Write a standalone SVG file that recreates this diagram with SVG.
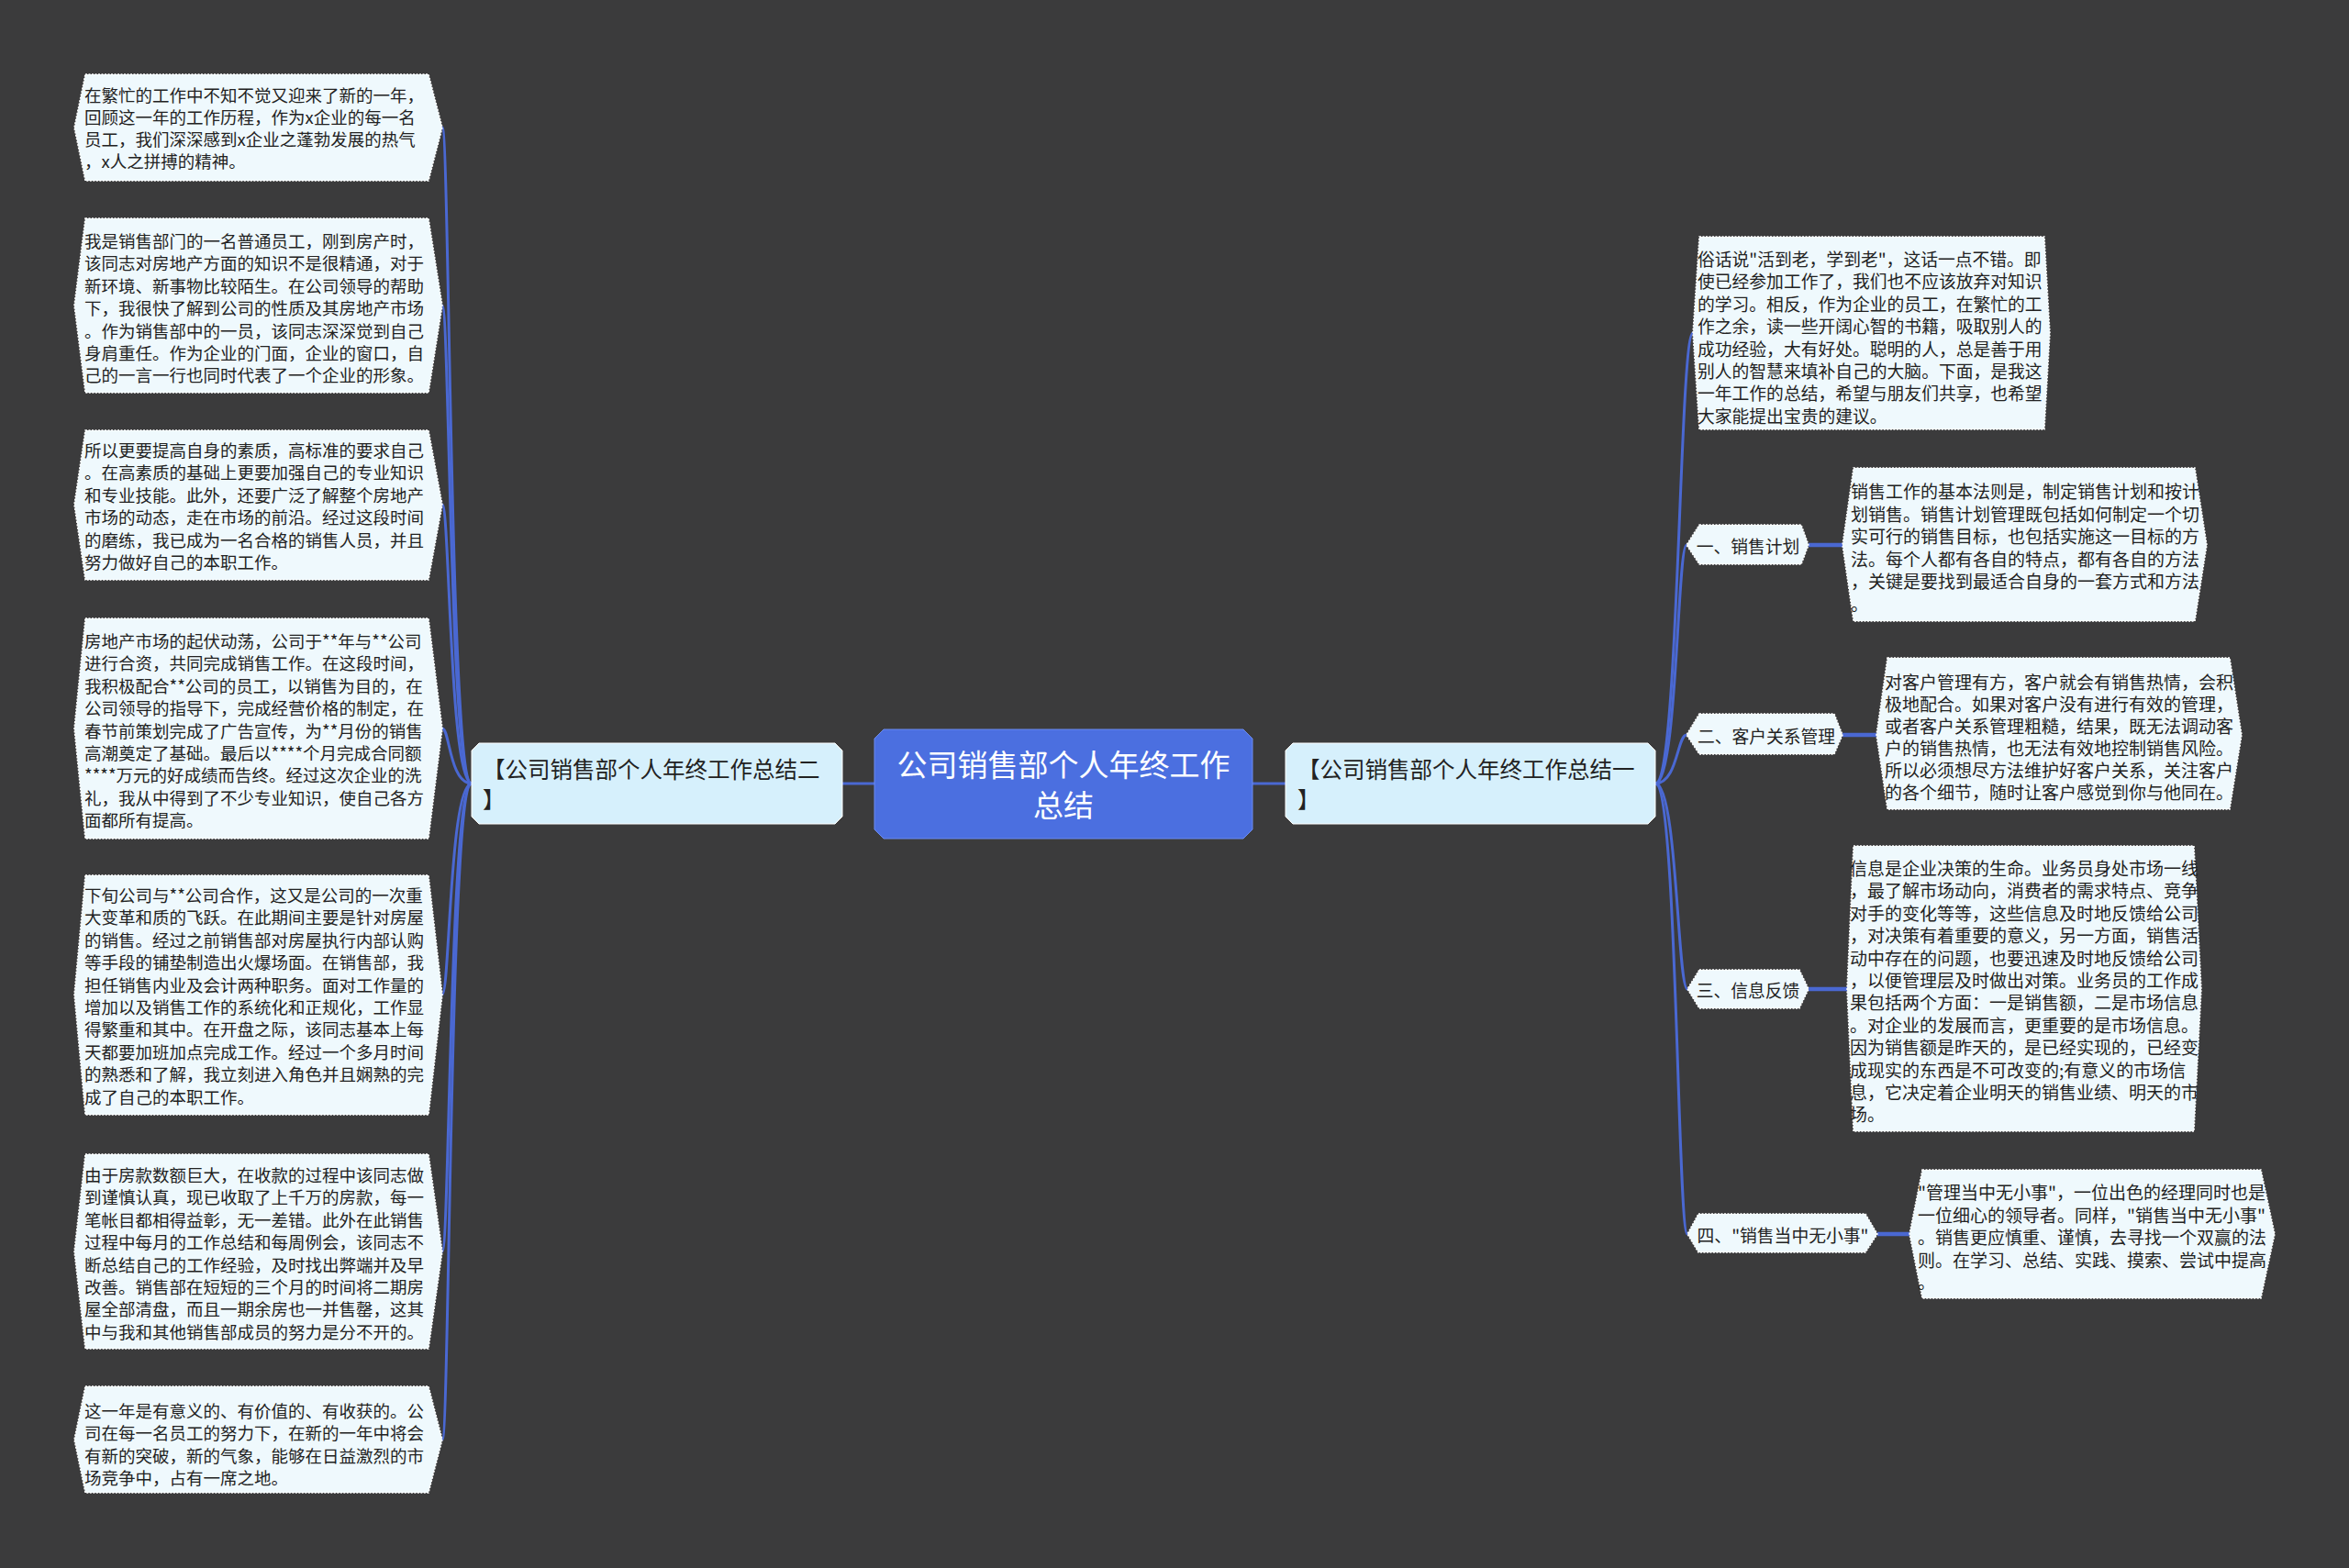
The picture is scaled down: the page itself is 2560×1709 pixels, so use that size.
<svg xmlns="http://www.w3.org/2000/svg" width="2560" height="1709" viewBox="0 0 2560 1709">
<style>
.leaf{fill:#eff9fd;stroke:#ffffff;stroke-width:1.5;stroke-dasharray:2 1.5}
.mid{fill:#eff9fd;stroke:#ffffff;stroke-width:1.5;stroke-dasharray:2 1.5}
.br{fill:#d6f0fc;stroke:#ffffff;stroke-width:1}
.t{font-family:"Noto Sans CJK SC","Noto Sans",sans-serif;fill:#222;dominant-baseline:central}
.lt{font-size:18.5px}
.rt{font-size:19px}
.mt{font-size:18.8px;text-anchor:middle}
.bt{font-size:24.5px}
.ct{font-size:33px;fill:#ffffff;text-anchor:middle}
.ln{fill:none;stroke:#4a68d2;stroke-width:3}
.lk{fill:none;stroke:#4a68d2;stroke-width:4.5}
</style>
<rect width="2560" height="1709" fill="#3b3b3c"/>
<g id="connectors">
<path class="ln" d="M918,854 H953"/>
<path class="ln" d="M1365,854 H1401"/>
<path class="ln" d="M514,854 C490,854 490,139 482,139"/>
<path class="ln" d="M514,854 C490,854 490,333 482,333"/>
<path class="ln" d="M514,854 C490,854 490,550 482,550"/>
<path class="ln" d="M514,854 C490,854 490,794 482,794"/>
<path class="ln" d="M514,854 C490,854 490,1084 482,1084"/>
<path class="ln" d="M514,854 C490,854 490,1364 482,1364"/>
<path class="ln" d="M514,854 C490,854 490,1569 482,1569"/>
<path class="ln" d="M1804,854 C1830,854 1830,363 1845,363"/>
<path class="ln" d="M1804,854 C1828,854 1828,594 1838,594"/>
<path class="ln" d="M1804,854 C1828,854 1828,801 1838,801"/>
<path class="ln" d="M1804,854 C1828,854 1828,1078 1839,1078"/>
<path class="ln" d="M1804,854 C1828,854 1828,1345 1839,1345"/>
<path class="lk" d="M1971,594 H2008"/>
<path class="lk" d="M2008,801 H2045"/>
<path class="lk" d="M1971,1078 H2013"/>
<path class="lk" d="M2046,1345 H2081"/>
</g>
<g id="center">
<path d="M963,795 H1355 L1365,805 V904 L1355,914 H963 L953,904 V805 Z" fill="#4b6fe0" stroke="#6d8cf0" stroke-width="1"/>
<text class="t ct"><tspan x="1159" y="832">公司销售部个人年终工作</tspan><tspan x="1159" y="876">总结</tspan></text>
</g>
<g id="branch-left">
<path d="M522,810 H910 L918,818 V890 L910,898 H522 L514,890 V818 Z" class="br"/>
<text class="t bt"><tspan x="526" y="837">【公司销售部个人年终工作总结二</tspan><tspan x="526" y="870">】</tspan></text>
</g>
<g id="branch-right">
<path d="M1409,810 H1796 L1804,818 V890 L1796,898 H1409 L1401,890 V818 Z" class="br"/>
<text class="t bt"><tspan x="1414" y="837">【公司销售部个人年终工作总结一</tspan><tspan x="1414" y="870">】</tspan></text>
</g>
<g id="left-1">
<polygon class="leaf" points="93,81 467,81 482,139 467,197 93,197 81,139"/>
<text class="t lt"><tspan x="92" y="103">在繁忙的工作中不知不觉又迎来了新的一年，</tspan><tspan x="92" y="127">回顾这一年的工作历程，作为x企业的每一名</tspan><tspan x="92" y="151">员工，我们深深感到x企业之蓬勃发展的热气</tspan><tspan x="92" y="175">，x人之拼搏的精神。</tspan></text>
</g>
<g id="left-2">
<polygon class="leaf" points="93,238 467,238 482,333 467,428 93,428 81,333"/>
<text class="t lt"><tspan x="92" y="262">我是销售部门的一名普通员工，刚到房产时，</tspan><tspan x="92" y="286.4">该同志对房地产方面的知识不是很精通，对于</tspan><tspan x="92" y="310.8">新环境、新事物比较陌生。在公司领导的帮助</tspan><tspan x="92" y="335.2">下，我很快了解到公司的性质及其房地产市场</tspan><tspan x="92" y="359.6">。作为销售部中的一员，该同志深深觉到自己</tspan><tspan x="92" y="384">身肩重任。作为企业的门面，企业的窗口，自</tspan><tspan x="92" y="408.4">己的一言一行也同时代表了一个企业的形象。</tspan></text>
</g>
<g id="left-3">
<polygon class="leaf" points="93,469 467,469 482,550 467,632 93,632 81,550"/>
<text class="t lt"><tspan x="92" y="490">所以更要提高自身的素质，高标准的要求自己</tspan><tspan x="92" y="514.4">。在高素质的基础上更要加强自己的专业知识</tspan><tspan x="92" y="538.8">和专业技能。此外，还要广泛了解整个房地产</tspan><tspan x="92" y="563.2">市场的动态，走在市场的前沿。经过这段时间</tspan><tspan x="92" y="587.6">的磨练，我已成为一名合格的销售人员，并且</tspan><tspan x="92" y="612">努力做好自己的本职工作。</tspan></text>
</g>
<g id="left-4">
<polygon class="leaf" points="93,674 467,674 482,794 467,914 93,914 81,794"/>
<text class="t lt"><tspan x="92" y="698">房地产市场的起伏动荡，公司于**年与**公司</tspan><tspan x="92" y="722.4">进行合资，共同完成销售工作。在这段时间，</tspan><tspan x="92" y="746.8">我积极配合**公司的员工，以销售为目的，在</tspan><tspan x="92" y="771.2">公司领导的指导下，完成经营价格的制定，在</tspan><tspan x="92" y="795.6">春节前策划完成了广告宣传，为**月份的销售</tspan><tspan x="92" y="820">高潮奠定了基础。最后以****个月完成合同额</tspan><tspan x="92" y="844.4">****万元的好成绩而告终。经过这次企业的洗</tspan><tspan x="92" y="868.8">礼，我从中得到了不少专业知识，使自己各方</tspan><tspan x="92" y="893.2">面都所有提高。</tspan></text>
</g>
<g id="left-5">
<polygon class="leaf" points="93,954 467,954 482,1084 467,1215 93,1215 81,1084"/>
<text class="t lt"><tspan x="92" y="975">下旬公司与**公司合作，这又是公司的一次重</tspan><tspan x="92" y="999.4">大变革和质的飞跃。在此期间主要是针对房屋</tspan><tspan x="92" y="1023.8">的销售。经过之前销售部对房屋执行内部认购</tspan><tspan x="92" y="1048.2">等手段的铺垫制造出火爆场面。在销售部，我</tspan><tspan x="92" y="1072.6">担任销售内业及会计两种职务。面对工作量的</tspan><tspan x="92" y="1097">增加以及销售工作的系统化和正规化，工作显</tspan><tspan x="92" y="1121.4">得繁重和其中。在开盘之际，该同志基本上每</tspan><tspan x="92" y="1145.8">天都要加班加点完成工作。经过一个多月时间</tspan><tspan x="92" y="1170.2">的熟悉和了解，我立刻进入角色并且娴熟的完</tspan><tspan x="92" y="1194.6">成了自己的本职工作。</tspan></text>
</g>
<g id="left-6">
<polygon class="leaf" points="93,1258 467,1258 482,1364 467,1470 93,1470 81,1364"/>
<text class="t lt"><tspan x="92" y="1280">由于房款数额巨大，在收款的过程中该同志做</tspan><tspan x="92" y="1304.4">到谨慎认真，现已收取了上千万的房款，每一</tspan><tspan x="92" y="1328.8">笔帐目都相得益彰，无一差错。此外在此销售</tspan><tspan x="92" y="1353.2">过程中每月的工作总结和每周例会，该同志不</tspan><tspan x="92" y="1377.6">断总结自己的工作经验，及时找出弊端并及早</tspan><tspan x="92" y="1402">改善。销售部在短短的三个月的时间将二期房</tspan><tspan x="92" y="1426.4">屋全部清盘，而且一期余房也一并售罄，这其</tspan><tspan x="92" y="1450.8">中与我和其他销售部成员的努力是分不开的。</tspan></text>
</g>
<g id="left-7">
<polygon class="leaf" points="93,1511 467,1511 482,1569 467,1627 93,1627 81,1569"/>
<text class="t lt"><tspan x="92" y="1537">这一年是有意义的、有价值的、有收获的。公</tspan><tspan x="92" y="1561.4">司在每一名员工的努力下，在新的一年中将会</tspan><tspan x="92" y="1585.8">有新的突破，新的气象，能够在日益激烈的市</tspan><tspan x="92" y="1610.2">场竞争中，占有一席之地。</tspan></text>
</g>
<g id="right-intro">
<polygon class="leaf" points="1852,258 2228,258 2234,363 2228,468 1852,468 1845,363"/>
<text class="t" style="font-size:18.8px"><tspan x="1850" y="281">俗话说"活到老，学到老"，这话一点不错。即</tspan><tspan x="1850" y="305.4">使已经参加工作了，我们也不应该放弃对知识</tspan><tspan x="1850" y="329.8">的学习。相反，作为企业的员工，在繁忙的工</tspan><tspan x="1850" y="354.2">作之余，读一些开阔心智的书籍，吸取别人的</tspan><tspan x="1850" y="378.6">成功经验，大有好处。聪明的人，总是善于用</tspan><tspan x="1850" y="403">别人的智慧来填补自己的大脑。下面，是我这</tspan><tspan x="1850" y="427.4">一年工作的总结，希望与朋友们共享，也希望</tspan><tspan x="1850" y="451.8">大家能提出宝贵的建议。</tspan></text>
</g>
<g id="sub-1">
<polygon class="mid" points="1852,572 1963,572 1971,594 1963,615 1852,615 1838,594"/>
<text class="t mt" x="1905" y="594">一、销售计划</text>
</g>
<g id="sub-1-leaf">
<polygon class="leaf" points="2020,510 2392,510 2405,594 2392,677 2020,677 2008,594"/>
<text class="t rt"><tspan x="2017" y="534">销售工作的基本法则是，制定销售计划和按计</tspan><tspan x="2017" y="558.5">划销售。销售计划管理既包括如何制定一个切</tspan><tspan x="2017" y="583">实可行的销售目标，也包括实施这一目标的方</tspan><tspan x="2017" y="607.5">法。每个人都有各自的特点，都有各自的方法</tspan><tspan x="2017" y="632">，关键是要找到最适合自身的一套方式和方法</tspan><tspan x="2017" y="656.5">。</tspan></text>
</g>
<g id="sub-2">
<polygon class="mid" points="1852,778 1999,778 2008,801 1999,822 1852,822 1838,801"/>
<text class="t mt" x="1925" y="801">二、客户关系管理</text>
</g>
<g id="sub-2-leaf">
<polygon class="leaf" points="2057,717 2430,717 2443,801 2430,882 2057,882 2045,801"/>
<text class="t rt"><tspan x="2054" y="742">对客户管理有方，客户就会有销售热情，会积</tspan><tspan x="2054" y="766">极地配合。如果对客户没有进行有效的管理，</tspan><tspan x="2054" y="790">或者客户关系管理粗糙，结果，既无法调动客</tspan><tspan x="2054" y="814">户的销售热情，也无法有效地控制销售风险。</tspan><tspan x="2054" y="838">所以必须想尽方法维护好客户关系，关注客户</tspan><tspan x="2054" y="862">的各个细节，随时让客户感觉到你与他同在。</tspan></text>
</g>
<g id="sub-3">
<polygon class="mid" points="1852,1057 1961,1057 1971,1078 1961,1099 1852,1099 1839,1078"/>
<text class="t mt" x="1905" y="1078">三、信息反馈</text>
</g>
<g id="sub-3-leaf">
<polygon class="leaf" points="2020,922 2391,922 2399,1078 2391,1233 2020,1233 2013,1078"/>
<text class="t rt"><tspan x="2016" y="945">信息是企业决策的生命。业务员身处市场一线</tspan><tspan x="2016" y="969.4">，最了解市场动向，消费者的需求特点、竞争</tspan><tspan x="2016" y="993.8">对手的变化等等，这些信息及时地反馈给公司</tspan><tspan x="2016" y="1018.2">，对决策有着重要的意义，另一方面，销售活</tspan><tspan x="2016" y="1042.6">动中存在的问题，也要迅速及时地反馈给公司</tspan><tspan x="2016" y="1067">，以便管理层及时做出对策。业务员的工作成</tspan><tspan x="2016" y="1091.4">果包括两个方面：一是销售额，二是市场信息</tspan><tspan x="2016" y="1115.8">。对企业的发展而言，更重要的是市场信息。</tspan><tspan x="2016" y="1140.2">因为销售额是昨天的，是已经实现的，已经变</tspan><tspan x="2016" y="1164.6">成现实的东西是不可改变的;有意义的市场信</tspan><tspan x="2016" y="1189">息，它决定着企业明天的销售业绩、明天的市</tspan><tspan x="2016" y="1213.4">场。</tspan></text>
</g>
<g id="sub-4">
<polygon class="mid" points="1851,1323 2033,1323 2046,1345 2033,1365 1851,1365 1839,1345"/>
<text class="t mt" x="1943" y="1345">四、"销售当中无小事"</text>
</g>
<g id="sub-4-leaf">
<polygon class="leaf" points="2095,1275 2464,1275 2479,1345 2464,1415 2095,1415 2081,1345"/>
<text class="t rt"><tspan x="2090" y="1298">"管理当中无小事"，一位出色的经理同时也是</tspan><tspan x="2090" y="1322.6">一位细心的领导者。同样，"销售当中无小事"</tspan><tspan x="2090" y="1347.2">。销售更应慎重、谨慎，去寻找一个双赢的法</tspan><tspan x="2090" y="1371.8">则。在学习、总结、实践、摸索、尝试中提高</tspan><tspan x="2090" y="1396.4">。</tspan></text>
</g>
</svg>
